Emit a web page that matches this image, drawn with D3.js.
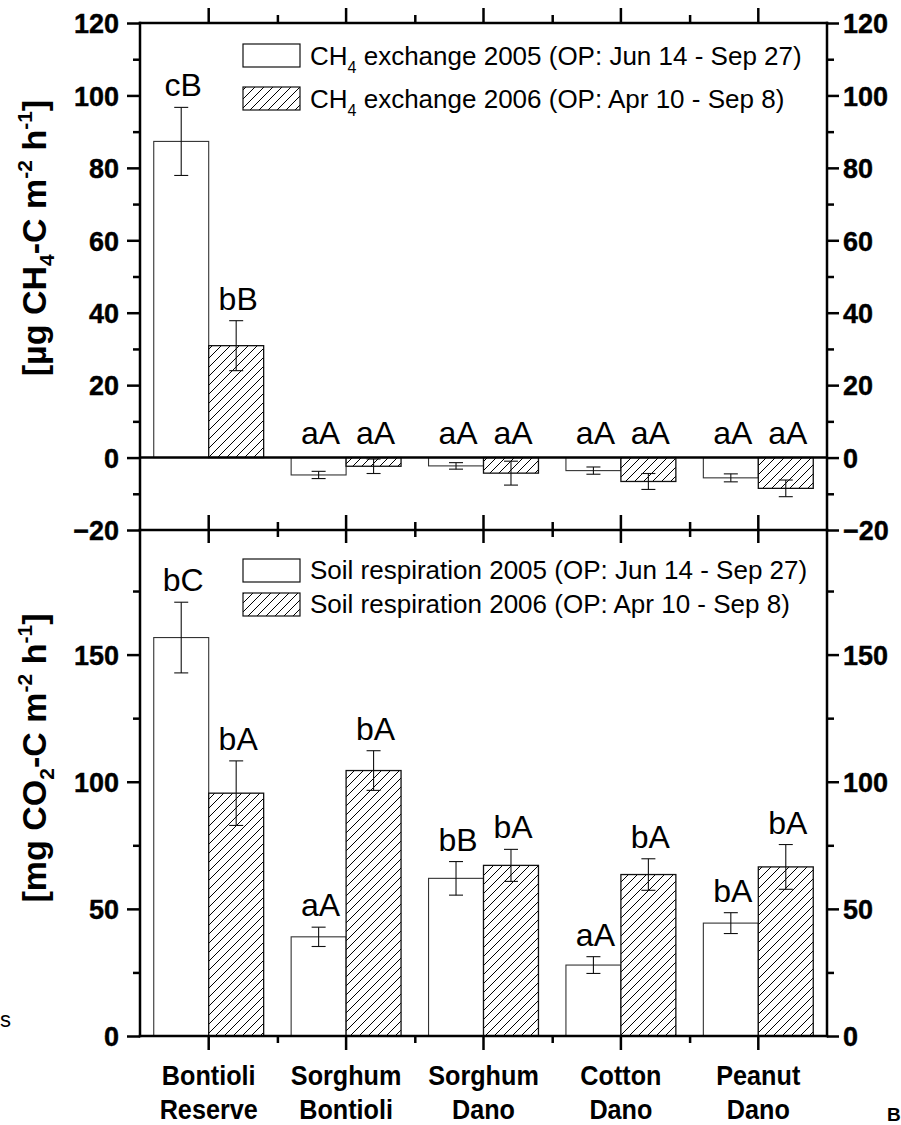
<!DOCTYPE html>
<html>
<head>
<meta charset="utf-8">
<script src="https://cdn.jsdelivr.net/npm/d3@7"></script>
<style>
  html, body { margin: 0; padding: 0; background: #fff; }
  svg { display: block; font-family: "Liberation Sans", Arial, Helvetica, sans-serif; }
</style>
</head>
<body>
<svg id="chart" width="901" height="1125"></svg>
<script>
// ---- data ----
const categories = [
  ["Bontioli", "Reserve"],
  ["Sorghum", "Bontioli"],
  ["Sorghum", "Dano"],
  ["Cotton", "Dano"],
  ["Peanut", "Dano"]
];
const seriesKeys = ["2005", "2006"];

// CH4 exchange [µg CH4-C m-2 h-1]
const ch4Mean2005 = [87.3, -4.8, -2.3, -3.6, -5.6];
const ch4Err2005  = [9.4, 1.0, 0.9, 1.0, 1.1];
const ch4Mean2006 = [30.9, -2.4, -4.3, -6.6, -8.5];
const ch4Err2006  = [6.9, 2.0, 3.3, 2.2, 2.3];
const ch4Letters2005 = ["cB", "aA", "aA", "aA", "aA"];
const ch4Letters2006 = ["bB", "aA", "aA", "aA", "aA"];

// Soil respiration [mg CO2-C m-2 h-1]
const respMean2005 = [156.7, 39.0, 62.0, 27.9, 44.4];
const respErr2005  = [13.9, 3.8, 6.6, 3.3, 4.1];
const respMean2006 = [95.5, 104.4, 67.1, 63.5, 66.5];
const respErr2006  = [12.7, 7.8, 6.3, 6.2, 8.8];
const respLetters2005 = ["bC", "aA", "bB", "aA", "bA"];
const respLetters2006 = ["bA", "bA", "bA", "bA", "bA"];

const ch4TickMajor = [-20, 0, 20, 40, 60, 80, 100, 120];
const ch4TickMinor = [-10, 10, 30, 50, 70, 90, 110];
const respTickMajor = [0, 50, 100, 150];
const respTickMinor = [25, 75, 125, 175];

const ch4Legend = [
  { pre: "CH", sub: "4", post: " exchange 2005 (OP: Jun 14 - Sep 27)" },
  { pre: "CH", sub: "4", post: " exchange 2006 (OP: Apr 10 - Sep 8)" }
];
const respLegend = [
  "Soil respiration 2005 (OP: Jun 14 - Sep 27)",
  "Soil respiration 2006 (OP: Apr 10 - Sep 8)"
];

// ---- layout ----
const left = 140, right = 827;
const topY = 23, midY = 530, botY = 1036;
const axisW = 2.5;

const svg = d3.select("#chart");

const defs = svg.append("defs");
const hatch = defs.append("pattern")
  .attr("id", "hatch")
  .attr("patternUnits", "userSpaceOnUse")
  .attr("width", 9).attr("height", 9);
hatch.append("rect").attr("width", 9).attr("height", 9).attr("fill", "#fff");
hatch.append("path")
  .attr("d", "M-1,1 L1,-1 M0,9 L9,0 M8,10 L10,8")
  .attr("stroke", "#000").attr("stroke-width", 1);

const x = d3.scaleBand().domain(d3.range(categories.length))
  .range([left, right]).paddingInner(0.2).paddingOuter(0.1);
const xs = d3.scaleBand().domain(seriesKeys).range([0, x.bandwidth()]);
const xEdge = d3.scaleLinear().domain([0, categories.length]).range([left, right]);

const yTop = d3.scaleLinear().domain([-20, 120]).range([midY, topY]);
const yBot = d3.scaleLinear().domain([0, 199]).range([botY, midY]);

function drawBars(y, means, keyIdx) {
  const g = svg.append("g");
  const key = seriesKeys[keyIdx];
  means.forEach((v, i) => {
    const x0 = x(i) + xs(key);
    const w = xs.bandwidth();
    const yv = y(v), y0 = y(0);
    g.append("rect")
      .attr("x", x0).attr("y", Math.min(yv, y0))
      .attr("width", w).attr("height", Math.abs(y0 - yv))
      .attr("fill", keyIdx === 0 ? "#fff" : "url(#hatch)")
      .attr("stroke", keyIdx === 0 ? "#333" : "#111")
      .attr("stroke-width", keyIdx === 0 ? 1.1 : 1.3);
  });
}

function drawErrors(y, means, errs, letters, keyIdx) {
  const g = svg.append("g").attr("stroke", "#111").attr("stroke-width", 1.1);
  const key = seriesKeys[keyIdx];
  means.forEach((v, i) => {
    const cx = x(i) + xs(key) + xs.bandwidth() / 2;
    const yHi = y(v + errs[i]), yLo = y(v - errs[i]);
    g.append("line").attr("x1", cx).attr("x2", cx).attr("y1", yHi).attr("y2", yLo);
    g.append("line").attr("x1", cx - 7).attr("x2", cx + 7).attr("y1", yHi).attr("y2", yHi);
    g.append("line").attr("x1", cx - 7).attr("x2", cx + 7).attr("y1", yLo).attr("y2", yLo);
    const base = v >= 0 ? yHi - 11 : y(0) - 14;
    svg.append("text")
      .attr("x", cx + 2).attr("y", base)
      .attr("text-anchor", "middle")
      .attr("font-size", 32)
      .attr("fill", "#000")
      .text(letters[i]);
  });
}

// ---- bars ----
drawBars(yTop, ch4Mean2005, 0);
drawBars(yTop, ch4Mean2006, 1);
drawBars(yBot, respMean2005, 0);
drawBars(yBot, respMean2006, 1);

// zero line of the CH4 panel
svg.append("line")
  .attr("x1", left).attr("x2", right)
  .attr("y1", yTop(0)).attr("y2", yTop(0))
  .attr("stroke", "#000").attr("stroke-width", axisW);

drawErrors(yTop, ch4Mean2005, ch4Err2005, ch4Letters2005, 0);
drawErrors(yTop, ch4Mean2006, ch4Err2006, ch4Letters2006, 1);
drawErrors(yBot, respMean2005, respErr2005, respLetters2005, 0);
drawErrors(yBot, respMean2006, respErr2006, respLetters2006, 1);

// ---- axes ----
function styleAxis(sel) {
  sel.select(".domain").remove();
  sel.selectAll(".tick line").attr("stroke", "#000").attr("stroke-width", axisW);
  sel.selectAll(".tick text")
    .attr("font-size", 27).attr("font-weight", "bold").attr("fill", "#000")
    .attr("stroke", "#000").attr("stroke-width", 0.4)
    .attr("font-family", "'Liberation Sans', Arial, sans-serif");
  return sel;
}

function yAxes(y, major, minor, y1, y2) {
  svg.append("g").attr("transform", `translate(${left},0)`)
    .call(d3.axisLeft(y).tickValues(major).tickSize(13).tickPadding(8).tickFormat(d3.format("d")))
    .call(styleAxis)
    .selectAll(".tick text").attr("dy", "0.36em");
  svg.append("g").attr("transform", `translate(${left},0)`)
    .call(d3.axisLeft(y).tickValues(minor).tickSize(7).tickFormat(""))
    .call(styleAxis);
  svg.append("g").attr("transform", `translate(${right},0)`)
    .call(d3.axisRight(y).tickValues(major).tickSize(12).tickPadding(4).tickFormat(d3.format("d")))
    .call(styleAxis)
    .selectAll(".tick text").attr("dy", "0.36em");
  svg.append("g").attr("transform", `translate(${right},0)`)
    .call(d3.axisRight(y).tickValues(minor).tickSize(7).tickFormat(""))
    .call(styleAxis);
  [left, right].forEach(xx => {
    svg.append("line").attr("x1", xx).attr("x2", xx).attr("y1", y1).attr("y2", y2)
      .attr("stroke", "#000").attr("stroke-width", axisW).attr("stroke-linecap", "square");
  });
}
yAxes(yTop, ch4TickMajor, ch4TickMinor, topY, midY);
yAxes(yBot, respTickMajor, respTickMinor, midY, botY);

function xAxis(yPos, dir, majorLen, minorLen) {
  const maker = dir === "top" ? d3.axisTop : d3.axisBottom;
  svg.append("g").attr("transform", `translate(0,${yPos})`)
    .call(maker(x).tickSize(majorLen).tickFormat(""))
    .call(styleAxis);
  svg.append("g").attr("transform", `translate(0,${yPos})`)
    .call(maker(xEdge).tickValues(d3.range(1, categories.length)).tickSize(minorLen).tickFormat(""))
    .call(styleAxis);
}
xAxis(topY, "top", 15, 8);
xAxis(midY, "bottom", 13, 7);
xAxis(midY, "top", 15, 8);
xAxis(botY, "bottom", 14, 7);

[topY, midY, botY].forEach(yy => {
  svg.append("line").attr("x1", left).attr("x2", right).attr("y1", yy).attr("y2", yy)
    .attr("stroke", "#000").attr("stroke-width", axisW).attr("stroke-linecap", "square");
});

// category labels (bold, slightly condensed)
categories.forEach((lines, i) => {
  const cx = x(i) + x.bandwidth() / 2;
  lines.forEach((t, k) => {
    svg.append("text")
      .attr("transform", `translate(${cx},${1085 + k * 34}) scale(0.9,1)`)
      .attr("text-anchor", "middle")
      .attr("font-size", 28).attr("font-weight", "bold")
      .text(t);
  });
});

// ---- legends ----
function legendBox(yBox, keyIdx) {
  svg.append("rect")
    .attr("x", 243).attr("y", yBox).attr("width", 57).attr("height", 23)
    .attr("fill", keyIdx === 0 ? "#fff" : "url(#hatch)")
    .attr("stroke", "#111").attr("stroke-width", 1.2);
}
[44, 87].forEach((yb, k) => {
  legendBox(yb, k);
  const t = svg.append("text").attr("x", 310).attr("y", yb + 21).attr("font-size", 26);
  t.append("tspan").text(ch4Legend[k].pre);
  t.append("tspan").attr("font-size", 16).attr("dy", 8).text(ch4Legend[k].sub);
  t.append("tspan").attr("dy", -8).text(ch4Legend[k].post);
});
[559, 593].forEach((yb, k) => {
  legendBox(yb, k);
  svg.append("text").attr("x", 310).attr("y", yb + 20).attr("font-size", 26).text(respLegend[k]);
});

// ---- axis titles ----
function yTitle(cy, parts) {
  const t = svg.append("text")
    .attr("transform", `translate(46,${cy}) rotate(-90)`)
    .attr("text-anchor", "middle")
    .attr("font-size", 34).attr("font-weight", "bold");
  parts.forEach(p => {
    const s = t.append("tspan").text(p.t);
    if (p.sub) s.attr("font-size", 21).attr("dy", 8);
    if (p.sup) s.attr("font-size", 21).attr("dy", -14);
    if (p.back) s.attr("dy", p.back);
  });
}
yTitle(238, [
  { t: "[µg CH" }, { t: "4", sub: true }, { t: "-C m", back: -8 },
  { t: "-2", sup: true }, { t: " h", back: 14 }, { t: "-1", sup: true }, { t: "]", back: 14 }
]);
yTitle(758, [
  { t: "[mg CO" }, { t: "2", sub: true }, { t: "-C m", back: -8 },
  { t: "-2", sup: true }, { t: " h", back: 14 }, { t: "-1", sup: true }, { t: "]", back: 14 }
]);

// fragments of neighbouring text at the page edges
svg.append("text").attr("x", 0).attr("y", 1027).attr("font-size", 22).text("s");
svg.append("text").attr("x", 887).attr("y", 1121).attr("font-size", 19).attr("font-weight", "bold").text("B");
</script>
</body>
</html>
